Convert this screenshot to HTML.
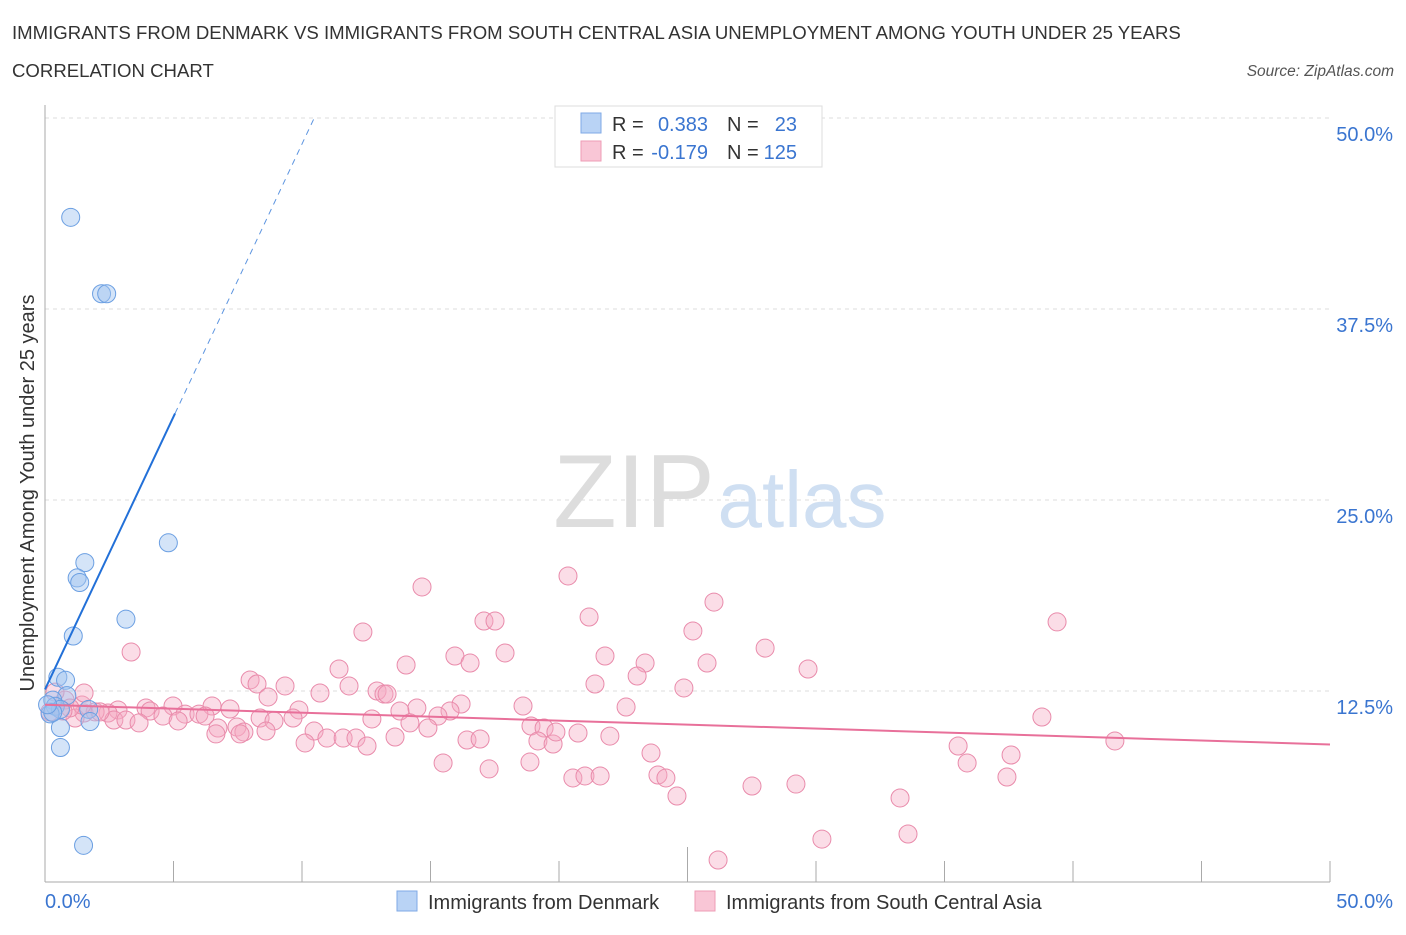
<!DOCTYPE html>
<html><head><meta charset="utf-8"><style>
body{margin:0;background:#fff;font-family:"Liberation Sans",sans-serif;}
svg text{font-family:"Liberation Sans",sans-serif;}
</style></head><body>
<svg id="chart" width="1406" height="930">
<text x="12" y="39" font-size="18.6" fill="#333">IMMIGRANTS FROM DENMARK VS IMMIGRANTS FROM SOUTH CENTRAL ASIA UNEMPLOYMENT AMONG YOUTH UNDER 25 YEARS</text>
<text x="12" y="77" font-size="18.6" fill="#333">CORRELATION CHART</text>
<text x="1394" y="76" font-size="15.5" fill="#555" font-style="italic" text-anchor="end">Source: ZipAtlas.com</text>
<g id="grid"></g>
<g><text x="634" y="527" font-size="104" fill="#ddd" font-family="Liberation Serif" text-anchor="middle">ZIP</text><text x="802" y="527" font-size="80" fill="#cfdff2" text-anchor="middle">atlas</text></g>
<g id="marks"></g>
<text transform="translate(34,493) rotate(-90)" font-size="20" fill="#333" text-anchor="middle">Unemployment Among Youth under 25 years</text>
<text x="45" y="908" font-size="20" fill="#3a75d0">0.0%</text>
<text x="1393" y="908" font-size="20" fill="#3a75d0" text-anchor="end">50.0%</text>
<g>
<rect x="555" y="106" width="267" height="61" fill="#fff" stroke="#ddd"/>
<rect x="581" y="113" width="20" height="20" fill="#b9d3f5" stroke="#7fa9e6"/>
<rect x="581" y="141" width="20" height="20" fill="#f9c6d6" stroke="#ee9cb6"/>
<text x="612" y="131" font-size="20" fill="#333">R =</text><text x="708" y="131" font-size="20" fill="#3a75d0" text-anchor="end">0.383</text>
<text x="727" y="131" font-size="20" fill="#333">N =</text><text x="797" y="131" font-size="20" fill="#3a75d0" text-anchor="end">23</text>
<text x="612" y="159" font-size="20" fill="#333">R =</text><text x="708" y="159" font-size="20" fill="#3a75d0" text-anchor="end">-0.179</text>
<text x="727" y="159" font-size="20" fill="#333">N =</text><text x="797" y="159" font-size="20" fill="#3a75d0" text-anchor="end">125</text>
</g>
<g>
<rect x="397" y="891" width="20" height="20" fill="#b9d3f5" stroke="#7fa9e6"/>
<text x="428" y="909" font-size="20" fill="#333">Immigrants from Denmark</text>
<rect x="695" y="891" width="20" height="20" fill="#f9c6d6" stroke="#ee9cb6"/>
<text x="726" y="909" font-size="20" fill="#333">Immigrants from South Central Asia</text>
</g>
</svg>
<script>
const yTicks=[12.5,25,37.5,50];
const yTickLabels=["12.5%","25.0%","37.5%","50.0%"];
const xTicks=[0,5,10,15,20,25,30,35,40,45,50];
const blueX=[1.0,2.2,2.4,4.8,1.55,1.25,1.35,3.15,1.1,0.5,0.8,0.85,0.3,0.4,0.6,0.2,1.7,1.75,0.6,0.6,1.5,0.3,0.1];
const blueY=[43.5,38.5,38.5,22.2,20.9,19.9,19.6,17.2,16.1,13.4,13.2,12.2,11.9,11.5,11.3,11.0,11.3,10.5,10.1,8.8,2.4,11.1,11.6];
const pinkX=[14.67,20.35,26.03,21.17,39.38,17.08,17.51,12.37,25.21,3.35,28.02,15.95,17.90,21.79,16.54,14.05,23.35,25.76,11.44,29.69,23.04,7.98,8.25,9.34,21.40,11.83,24.86,12.92,8.68,10.70,13.19,13.31,16.19,18.60,22.61,14.47,13.81,9.88,15.76,4.98,6.50,3.93,2.84,4.09,5.45,4.59,5.99,7.20,2.45,1.52,1.95,1.17,8.37,8.91,9.65,12.72,14.20,15.29,18.91,19.42,20.74,38.79,2.68,3.15,3.66,5.18,6.23,7.47,6.73,7.74,8.60,10.47,6.65,7.59,10.12,10.97,11.60,12.10,12.53,13.62,14.90,16.42,16.93,19.18,19.77,19.88,21.98,23.58,15.49,17.28,18.87,20.54,21.01,21.60,23.85,24.16,24.59,27.51,29.22,35.53,35.88,37.59,37.43,41.63,33.27,33.58,30.23,26.19,1.44,2.14,0.78,0.97,0.70,0.39,1.52,0.19];
const pinkY=[19.31,20.03,18.32,17.34,17.02,17.08,17.08,16.36,16.43,15.05,15.31,14.79,14.99,14.79,14.33,14.20,14.33,14.33,13.94,13.94,13.48,13.22,12.96,12.83,12.96,12.83,12.70,12.50,12.11,12.37,12.30,12.30,11.65,11.52,11.45,11.39,11.19,11.26,11.19,11.52,11.52,11.39,11.26,11.19,10.99,10.86,10.99,11.32,11.06,11.06,11.13,10.73,10.73,10.54,10.73,10.67,10.41,10.86,10.21,10.08,9.75,10.80,10.60,10.60,10.41,10.54,10.86,10.14,10.08,9.82,9.88,9.88,9.69,9.69,9.10,9.42,9.42,9.42,8.90,9.49,10.08,9.29,9.36,9.23,9.03,9.82,9.55,8.44,7.79,7.40,7.85,6.81,6.94,6.94,7.00,6.81,5.63,6.28,6.41,8.90,7.79,8.31,6.87,9.23,5.50,3.14,2.81,1.44,11.58,11.13,11.91,11.39,11.19,12.43,12.37,11.13];
const blueTrend=[12.6,3.57];
const pinkTrend=[11.6,-0.052];
const NS='http://www.w3.org/2000/svg';
const sx=v=>45+v/50*1285, sy=v=>882-v/50*764;
function mk(t,a,p){const e=document.createElementNS(NS,t);for(const k in a)e.setAttribute(k,a[k]);p.appendChild(e);return e;}
const g=document.getElementById('grid'), m=document.getElementById('marks');
yTicks.forEach((t,i)=>{
 const l=mk('line',{x1:45,x2:1330,y1:sy(t),y2:sy(t),stroke:'#ddd','stroke-dasharray':'4,4'},g);
 
 
 const tx=mk('text',{x:1393,y:sy(t)+23,'font-size':20,fill:'#3a75d0','text-anchor':'end'},g);
 tx.textContent=yTickLabels[i];
 
 
});
const ax=mk('line',{x1:45,x2:45,y1:105,y2:882,stroke:'#aaa'},g);


const bx=mk('line',{x1:45,x2:1330,y1:882,y2:882,stroke:'#aaa'},g);


xTicks.forEach(t=>{
 const l=mk('line',{x1:sx(t),x2:sx(t),y1:t===25?847:861,y2:882,stroke:'#aaa'},g);
 
 
});
pinkX.forEach((x,i)=>{
 const c=mk('circle',{cx:sx(x),cy:sy(pinkY[i]),r:9,fill:'rgba(245,170,196,0.4)',stroke:'#e98bab','stroke-width':1},m);
 
 
});
blueX.forEach((x,i)=>{
 const c=mk('circle',{cx:sx(x),cy:sy(blueY[i]),r:9,fill:'rgba(160,196,240,0.45)',stroke:'#6b9fe2','stroke-width':1},m);
 
 
});
const xs=5.06, xe=(50-blueTrend[0])/blueTrend[1];
const b1=mk('line',{x1:sx(0),y1:sy(blueTrend[0]),x2:sx(xs),y2:sy(blueTrend[0]+blueTrend[1]*xs),stroke:'#2270d8','stroke-width':2},m);


const b2=mk('line',{x1:sx(xs),y1:sy(blueTrend[0]+blueTrend[1]*xs),x2:sx(xe),y2:sy(50),stroke:'#5d95e0','stroke-width':1,'stroke-dasharray':'6,5'},m);


const p=mk('line',{x1:sx(0),y1:sy(pinkTrend[0]),x2:sx(50),y2:sy(pinkTrend[0]+pinkTrend[1]*50),stroke:'#e8709a','stroke-width':2},m);


</script>
</body></html>
